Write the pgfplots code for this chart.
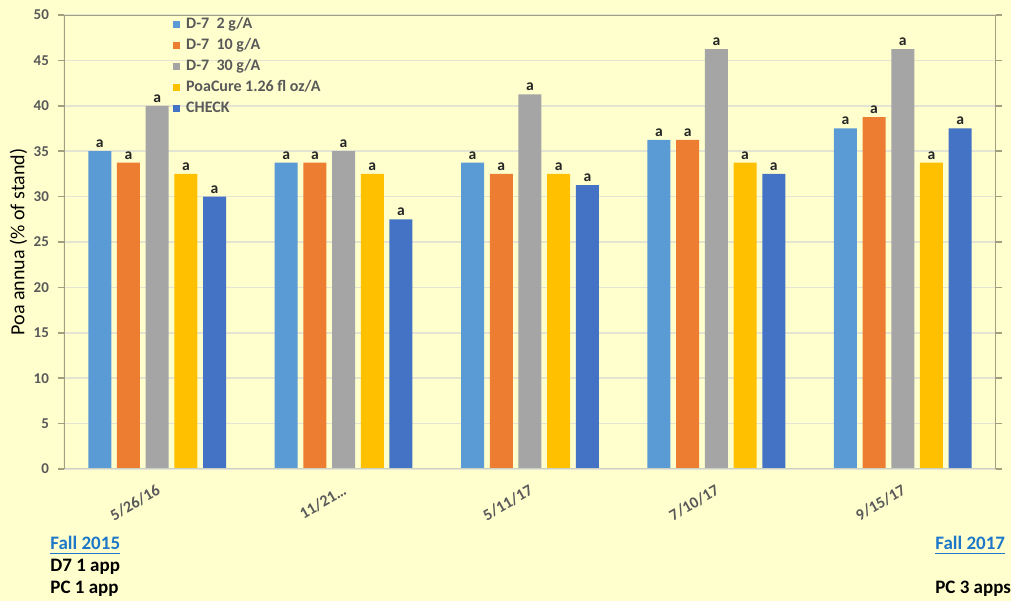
\documentclass[border=0pt]{standalone}
\usepackage{pgfplots}
\usepackage{pgfplotstable}
\pgfplotsset{compat=1.18}
\usepackage{fontspec}
\setmainfont{Carlito}

\definecolor{bgc}{RGB}{255,255,206}
\definecolor{gridc}{RGB}{228,228,210}
\definecolor{axc}{RGB}{160,160,128}
\definecolor{txtc}{RGB}{89,89,89}
\definecolor{lblc}{RGB}{120,120,120}
\definecolor{linkc}{RGB}{30,120,200}
\definecolor{c1}{RGB}{91,155,213}
\definecolor{c2}{RGB}{237,125,49}
\definecolor{c3}{RGB}{165,165,165}
\definecolor{c4}{RGB}{255,192,0}
\definecolor{c5}{RGB}{68,114,196}

% date index, then the five treatments
\pgfplotstableread{
x  d2     d10    d30    pc     chk
0  35.00  33.75  40.00  32.50  30.00
1  33.75  33.75  35.00  32.50  27.50
2  33.75  32.50  41.25  32.50  31.25
3  36.25  36.25  46.25  33.75  32.50
4  37.50  38.75  46.25  33.75  37.50
}\poadata

\begin{document}
\begin{tikzpicture}
\fill[bgc] (0,0) rectangle (505.5pt,300.5pt);
\begin{axis}[
    at={(32pt,66pt)}, anchor=south west,
    scale only axis,
    width=466pt, height=227pt,
    ybar=2.85pt, bar width=11.5pt,
    xmin=-0.5, xmax=4.5,
    ymin=0, ymax=50,
    ytick={0,5,...,50},
    xtick=data,
    xticklabels={5/26/16, {11/21\ldots}, 5/11/17, 7/10/17, 9/15/17},
    ymajorgrids,
    grid style={gridc, line width=0.8pt},
    axis line style={draw=none},
    major x tick style={draw=none},
    major y tick style={axc, line width=0.8pt},
    tick align=outside,
    major tick length=3pt,
    /pgf/number format/assume math mode=true,
    yticklabel style={font=\fontsize{7.5}{9}\selectfont\bfseries, text=txtc, xshift=-1pt},
    xticklabel style={font=\fontsize{8}{9}\selectfont\bfseries, text=txtc, rotate=30, anchor=north east, yshift=0pt, xshift=0.5pt},
    ylabel={Poa annua (\% of stand)},
    ylabel style={font=\fontsize{8}{9}\selectfont, text=lblc},
    every axis y label/.style={at={(axis description cs:-0.049,0.5)}, rotate=90, anchor=center},
    nodes near coords={a},
    nodes near coords style={font=\fontsize{7.8}{8}\selectfont\bfseries, text=black!85, inner sep=1.5pt},
    legend style={at={(0.117,1.004)}, anchor=north west, draw=none, fill=none,
        font=\fontsize{8}{10.5}\selectfont\bfseries, text=txtc,
        row sep=-0.6pt, inner sep=0pt,
        /tikz/every odd column/.append style={column sep=1pt}},
    legend cell align=left,
    legend image code/.code={\fill[#1] (0pt,-1.7pt) rectangle (3.4pt,1.7pt);},
]
\addplot[fill=c1, draw=none] table[x=x, y=d2] {\poadata};
\addplot[fill=c2, draw=none] table[x=x, y=d10] {\poadata};
\addplot[fill=c3, draw=none] table[x=x, y=d30] {\poadata};
\addplot[fill=c4, draw=none] table[x=x, y=pc] {\poadata};
\addplot[fill=c5, draw=none] table[x=x, y=chk] {\poadata};
\legend{D-7\ \ 2 g/A, D-7\ \ 10 g/A, D-7\ \ 30 g/A, PoaCure 1.26 fl oz/A, CHECK}
\draw[gridc!80!gray, line width=0.8pt] (rel axis cs:0,0) -- (rel axis cs:1,0);
\draw[axc, line width=0.9pt] (rel axis cs:0,0) -- (rel axis cs:0,1) -- (rel axis cs:1,1) -- (rel axis cs:1,0);
\end{axis}
\begin{scope}[font=\fontsize{9.5}{11}\selectfont\bfseries]
\node[anchor=base west, inner sep=0pt, text=linkc] at (25pt,25.5pt) {\underline{Fall 2015}};
\node[anchor=base west, inner sep=0pt] at (25pt,14.5pt) {D7 1 app};
\node[anchor=base west, inner sep=0pt] at (25pt,3.5pt) {PC 1 app};
\node[anchor=base west, inner sep=0pt, text=linkc] at (467.5pt,25.5pt) {\underline{Fall 2017}};
\node[anchor=base west, inner sep=0pt] at (467.5pt,3.5pt) {PC 3 apps};
\end{scope}
\end{tikzpicture}
\end{document}
